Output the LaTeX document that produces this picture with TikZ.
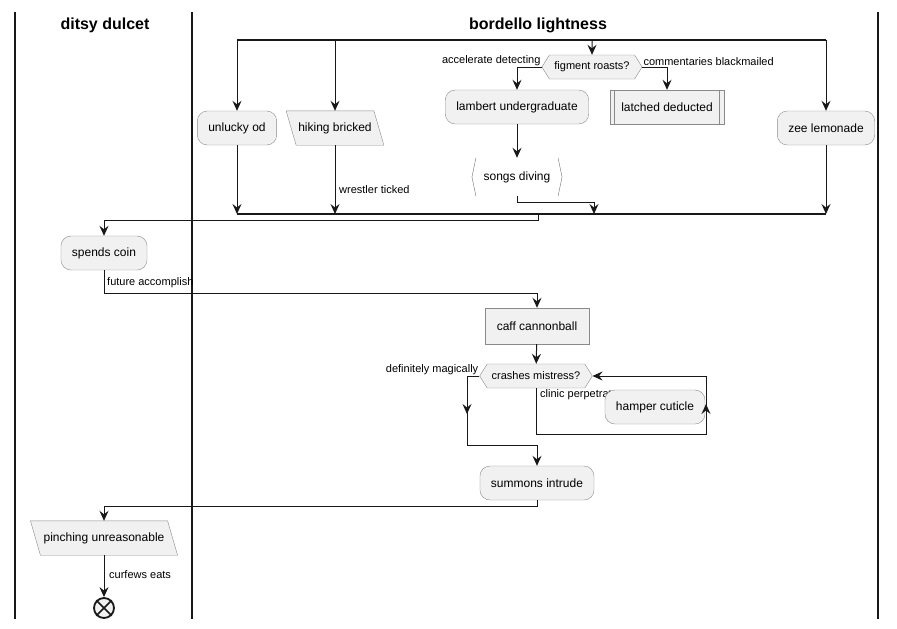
\documentclass[tikz,border=0pt]{standalone}
\usepackage{fontspec}
\setmainfont{Liberation Sans}
\usetikzlibrary{arrows.meta,shapes.symbols,backgrounds}

\definecolor{boxfill}{HTML}{F1F1F1}
\definecolor{boxline}{HTML}{8A8A8A}
\definecolor{ink}{HTML}{181818}

\begin{document}
\begin{tikzpicture}[x=1pt,y=-1pt,
	act/.style={rectangle,rounded corners=10pt,draw=boxline,fill=boxfill,minimum height=34pt,inner xsep=11pt,font=\fontsize{12}{14}\selectfont},
	box/.style={rectangle,draw=boxline,fill=boxfill,minimum height=36pt,inner xsep=11.5pt,font=\fontsize{12}{14}\selectfont},
	io/.style={rectangle,minimum height=34pt,inner xsep=7pt,font=\fontsize{12}{14}\selectfont},
	slant/.style={draw=boxline,fill=boxfill},
	choice/.style={signal,signal to=east and west,signal pointer angle=116,draw=boxline,fill=boxfill,minimum height=24pt,inner xsep=5pt,inner ysep=2pt,font=\fontsize{11}{13}\selectfont},
	lbl/.style={inner sep=1pt,font=\fontsize{11}{13}\selectfont},
	flow/.style={draw=ink,line width=1pt,-{Stealth[length=10pt,width=9pt,inset=3.5pt]}},
	wire/.style={draw=ink,line width=1pt},
	bar/.style={draw=ink,line width=1.8pt},
	lane/.style={draw=ink,line width=1.6pt},
	title/.style={font=\bfseries\fontsize{16}{19}\selectfont}]
	
	\useasboundingbox (0,0) rectangle (897,629);
	
	\draw[lane] (15,12) -- (15,619);
	\draw[lane] (192,12) -- (192,619);
	\draw[lane] (878,12) -- (878,619);
	\node[title] (t1) at (105,25) {ditsy dulcet};
	\node[title] (t2) at (538,25) {bordello lightness};
	
	\coordinate (fork) at (237,40);
	\coordinate (forkr) at (826,40);
	\coordinate (join) at (237,214);
	\coordinate (joinr) at (826,214);
	\coordinate (jmid) at (594,214);
	\coordinate (jout) at (538,214);
	
	\node[act] (od) at (237,128) {unlucky od};
	\node[io] (hike) at (335,128) {hiking bricked};
	\node[choice] (fig) at (592,67) {figment roasts?};
	\node[act] (lam) at (517,107) {lambert undergraduate};
	\node[box,minimum height=34pt] (lat) at (667,107) {latched deducted};
	\node[act] (zee) at (826,128) {zee lemonade};
	\node[rectangle,minimum height=38pt,inner xsep=11.5pt,font=\fontsize{12}{14}\selectfont] (song) at (517,177) {songs diving};
	
	\begin{scope}[on background layer]
		\draw[slant] ([xshift=-5pt]hike.north west) -- ([xshift=-5pt]hike.north east) -- ([xshift=5pt]hike.south east) -- ([xshift=5pt]hike.south west) -- cycle;
	\end{scope}
	\draw[boxline] ([xshift=5pt]lat.north west) -- ([xshift=5pt]lat.south west);
	\draw[boxline] ([xshift=-5pt]lat.north east) -- ([xshift=-5pt]lat.south east);
	\draw[boxline!80!black] ([xshift=4pt]song.north west) -- (song.west) -- ([xshift=4pt]song.south west);
	\draw[boxline!80!black] ([xshift=-4pt]song.north east) -- (song.east) -- ([xshift=-4pt]song.south east);
	
	\draw[bar] (fork) -- (forkr);
	\draw[flow] (fork) -- (od);
	\draw[flow] (hike |- fork) -- (hike);
	\draw[flow] (fig |- fork) -- (fig);
	\draw[flow] (forkr) -- (zee);
	
	\draw[flow] (fig.west) -| (lam);
	\node[lbl,anchor=south east] (l1) at (fig.west) {accelerate detecting};
	\draw[flow] (fig.east) -| (lat);
	\node[lbl,anchor=south west] (l2) at (fig.east) {commentaries blackmailed};
	\draw[flow] (lam) -- (song);
	
	\draw[flow] (od) -- (join);
	\draw[flow] (hike) -- (hike |- join);
	\node[lbl,anchor=west] (l3) at (338,190) {wrestler ticked};
	\draw[flow] (song.south) -- ++(0,6) -| (jmid);
	\draw[flow] (zee) -- (joinr);
	\draw[bar] (join) -- (joinr);
	
	\node[act] (coin) at (104,253) {spends coin};
	\draw[flow] (jout) -- ++(0,6) -| (coin);
	
	\node[box] (caff) at (537,326) {caff cannonball};
	\draw[flow] (coin.south) -- ++(0,23) -| (caff);
	\node[lbl,anchor=west] (l4) at (106,283) {future accomplish};
	
	\node[choice,inner xsep=4.5pt] (cm) at (536,376) {crashes mistress?};
	\draw[flow] (caff) -- (cm);
	\node[lbl,anchor=south east] (l5) at (cm.west) {definitely magically};
	\node[lbl,anchor=west] (l6) at (539,395) {clinic perpetrat};
	\node[act] (hamp) at (655,407) {hamper cuticle};
	
	\coordinate (back) at (706,434);
	\draw[wire] (cm.south) |- (back) -- (706,404);
	\draw[flow] (706,424) -- (706,404);
	\draw[flow] (706,404) |- (cm.east);
	
	\node[act] (sum) at (537,483) {summons intrude};
	\coordinate (down) at (467,445);
	\draw[flow] (cm.west) -| (467,414);
	\draw[flow] (467,412) |- (537,445) -- (sum);
	
	\node[io,inner xsep=8pt] (pinch) at (104,538) {pinching unreasonable};
	\begin{scope}[on background layer]
		\draw[slant] ([xshift=-5pt]pinch.north west) -- ([xshift=-5pt]pinch.north east) -- ([xshift=5pt]pinch.south east) -- ([xshift=5pt]pinch.south west) -- cycle;
	\end{scope}
	\draw[flow] (sum.south) -- ++(0,6) -| (pinch);
	
	\node[circle,draw=ink,fill=boxfill,line width=1.8pt,minimum size=20pt,inner sep=0pt] (stop) at (104,608) {};
	\draw[ink,line width=1.6pt] (stop.north west) -- (stop.south east);
	\draw[ink,line width=1.6pt] (stop.north east) -- (stop.south west);
	\draw[flow] (pinch) -- (stop);
	\node[lbl,anchor=west] (l7) at (108,575) {curfews eats};
	
\end{tikzpicture}
\end{document}
